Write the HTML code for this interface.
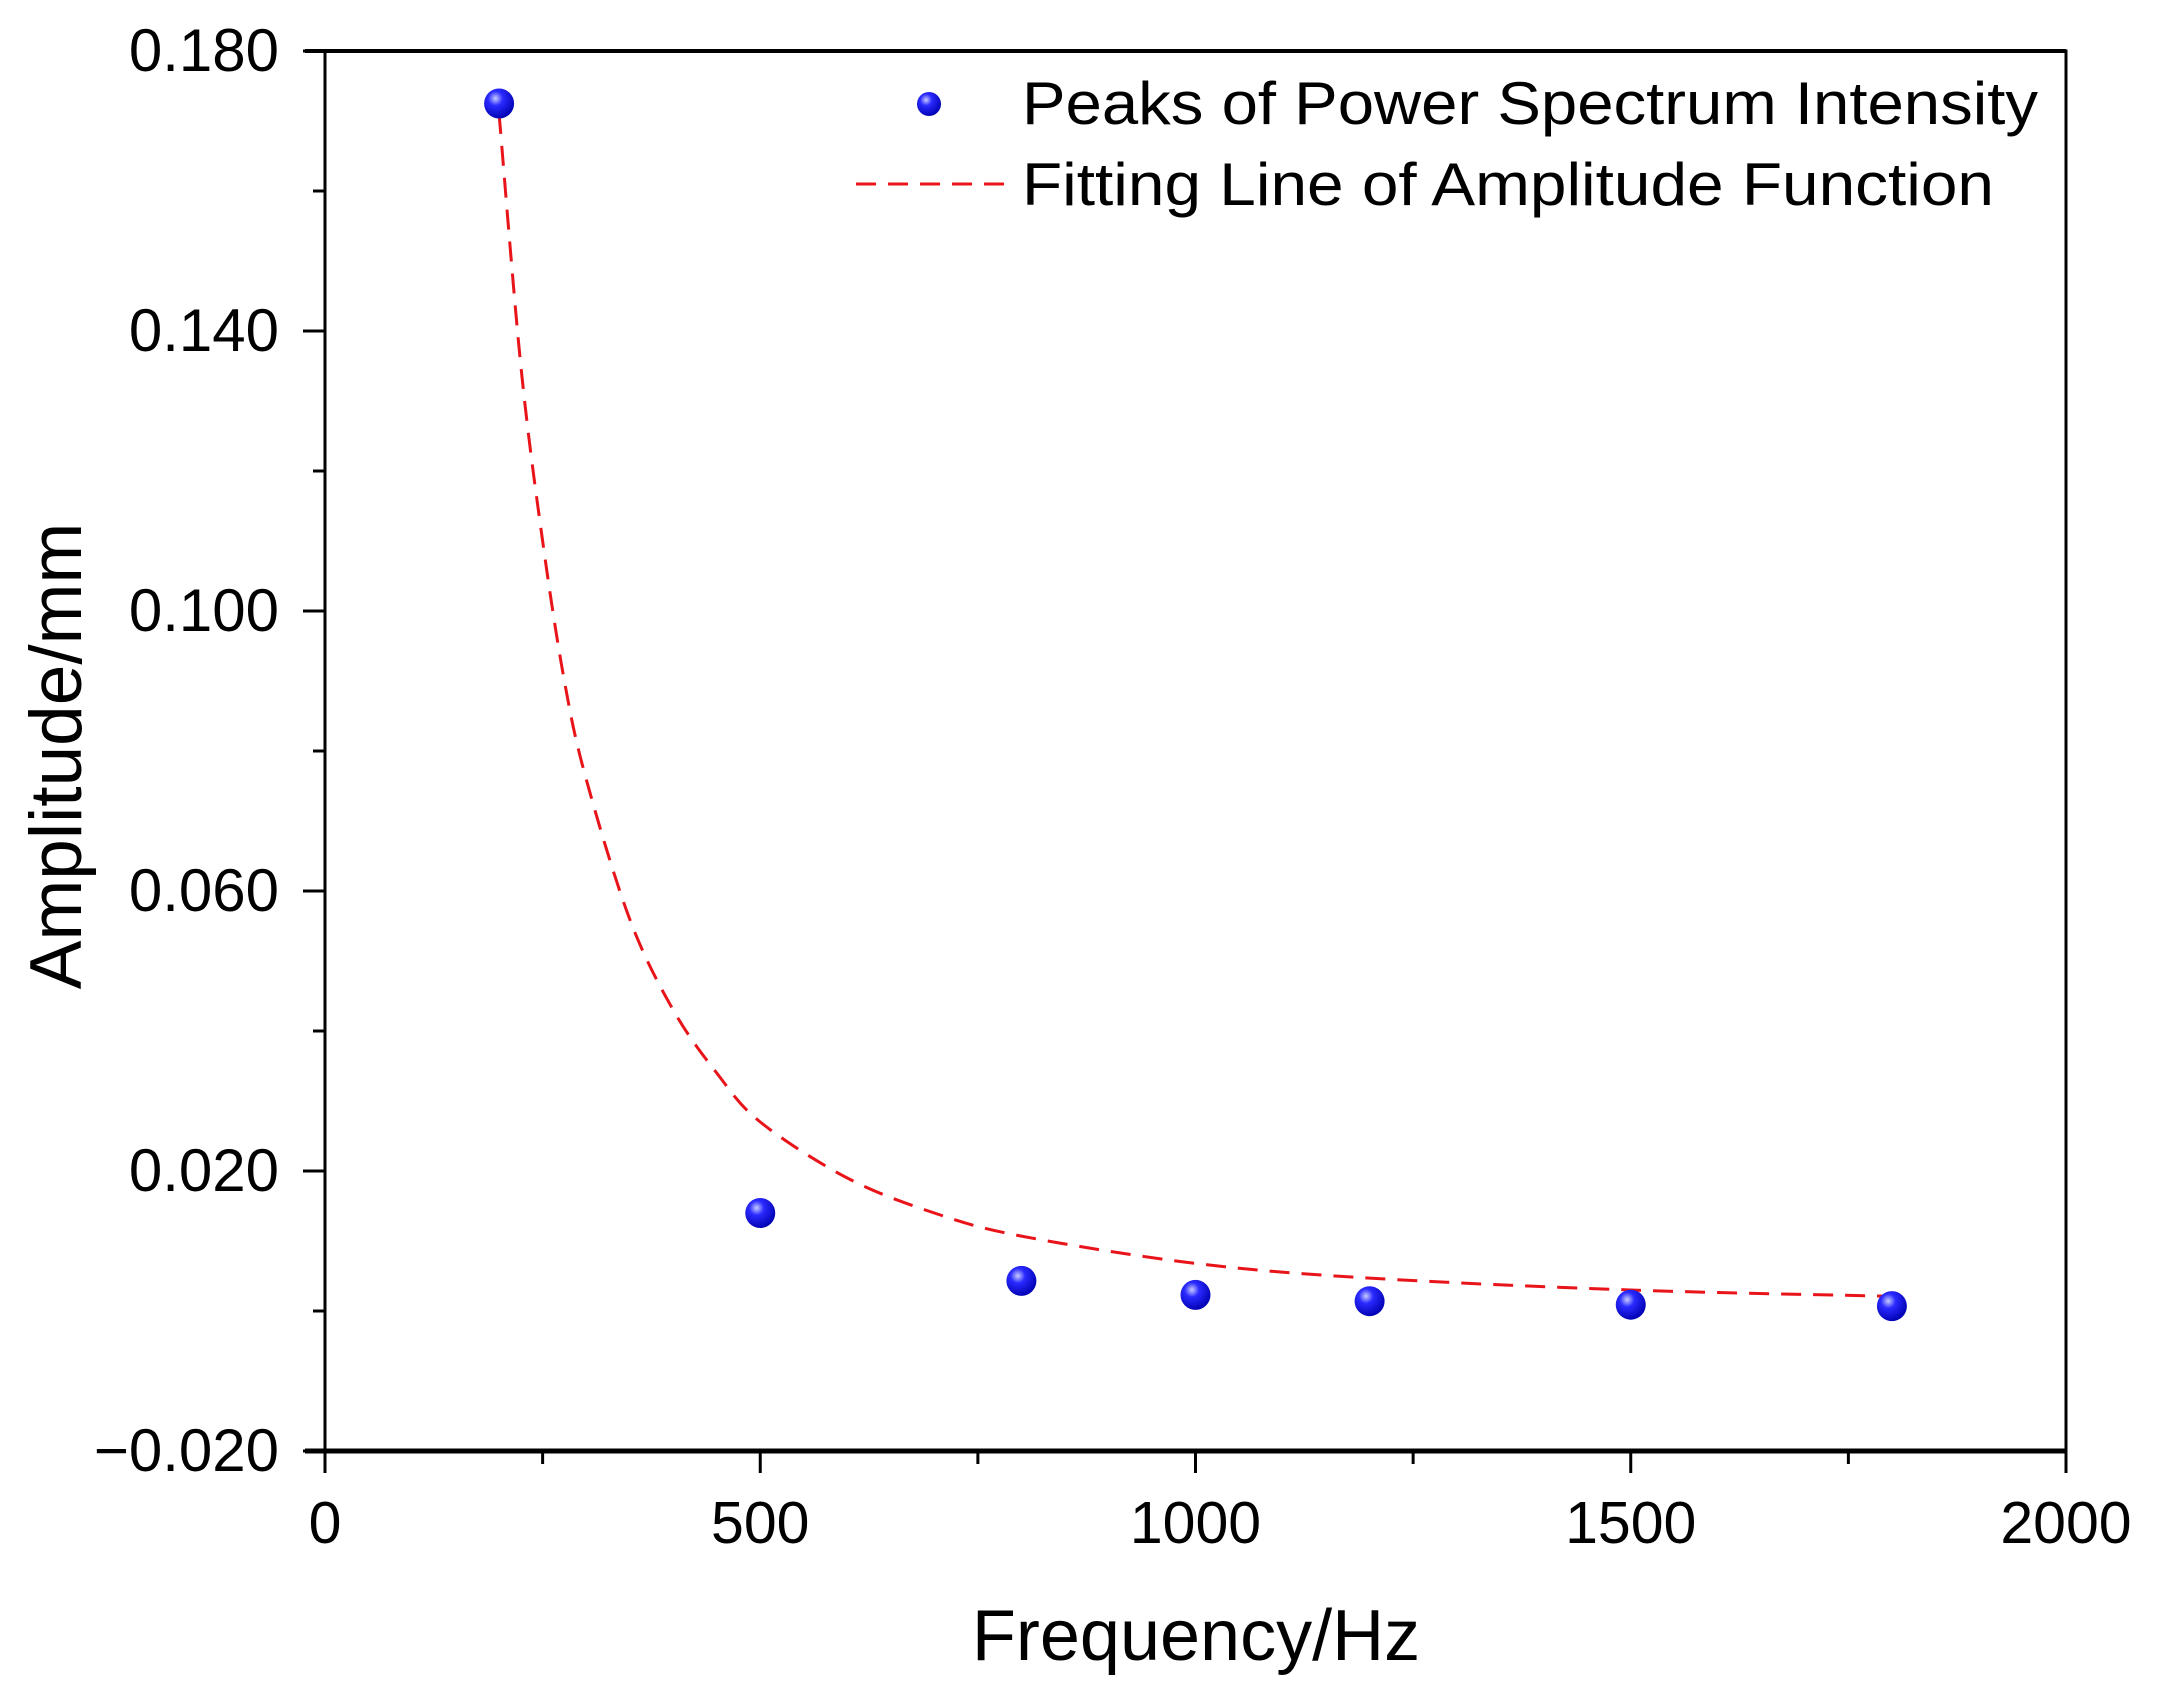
<!DOCTYPE html>
<html><head><meta charset="utf-8"><style>
html,body{margin:0;padding:0;background:#fff;}
svg{display:block;font-family:"Liberation Sans",Arial,sans-serif;}
</style></head><body>
<svg id="chart" width="2164" height="1684" viewBox="0 0 2164 1684" xmlns="http://www.w3.org/2000/svg">
<defs>
<radialGradient id="ball" cx="0.38" cy="0.33" r="0.7">
<stop offset="0" stop-color="#c8ccff"/><stop offset="0.35" stop-color="#2a2aff"/><stop offset="1" stop-color="#0000b0"/>
</radialGradient>
</defs>
<g id="axes"></g>
<g id="series"></g>
<g id="legend">
<circle cx="929" cy="104" r="12" fill="url(#ball)"/>
<text x="1022" y="124" font-size="60" textLength="1016" lengthAdjust="spacingAndGlyphs">Peaks of Power Spectrum Intensity</text>
<line x1="856" y1="184" x2="1005" y2="184" stroke="#e8141a" stroke-width="3" stroke-dasharray="20,12"/>
<text x="1022" y="205" font-size="60" textLength="972" lengthAdjust="spacingAndGlyphs">Fitting Line of Amplitude Function</text>
</g>
<text x="1196" y="1660" font-size="72" text-anchor="middle">Frequency/Hz</text>
<text transform="translate(81,756) rotate(-90)" font-size="73" text-anchor="middle">Amplitude/mm</text>
</svg>
<script>
const xTicks = [0, 500, 1000, 1500, 2000];
const xTickLabels = ["0", "500", "1000", "1500", "2000"];
const xMinor = [250, 750, 1250, 1750];
const yTicks = [-0.02, 0.02, 0.06, 0.10, 0.14, 0.18];
const yTickLabels = ["\u22120.020", "0.020", "0.060", "0.100", "0.140", "0.180"];
const yMinor = [0.0, 0.04, 0.08, 0.12, 0.16];
const peakFreq = [200, 500, 800, 1000, 1200, 1500, 1800];
const peakAmp = [0.1725, 0.014, 0.0043, 0.0023, 0.0014, 0.0009, 0.0007];
const fitFreq = [200, 225, 250, 275, 300, 350, 400, 450, 500, 600, 700, 800, 1000, 1200, 1500, 1800];
const fitAmp = [0.171, 0.135, 0.110, 0.090, 0.076, 0.056, 0.043, 0.034, 0.027, 0.019, 0.014, 0.0107, 0.0068, 0.0047, 0.0030, 0.0021];

const PL = 325, PR = 2066, PT = 51, PB = 1451;
const xMin = 0, xMax = 2000, yMin = -0.02, yMax = 0.18;
const X = v => PL + (v - xMin) / (xMax - xMin) * (PR - PL);
const Y = v => PB - (v - yMin) / (yMax - yMin) * (PB - PT);
const NS = "http://www.w3.org/2000/svg";
function mk(tag, attrs, parent) {
  const e = document.createElementNS(NS, tag);
  for (const k in attrs) e.setAttribute(k, attrs[k]);
  parent.appendChild(e);
  return e;
}
const axesG = document.getElementById('axes');
const frameRect = mk('rect', {x: PL, y: PT, width: PR - PL, height: PB - PT, fill: 'none', stroke: '#000', 'stroke-width': 3}, axesG);


const bottomAxis = mk('line', {x1: PL - 20, y1: PB, x2: PR, y2: PB, stroke: '#000', 'stroke-width': 5}, axesG);


const topAxis = mk('line', {x1: PL - 20, y1: PT, x2: PR, y2: PT, stroke: '#000', 'stroke-width': 4}, axesG);


xTicks.forEach((v, i) => {
  const t = mk('line', {x1: X(v), y1: PB, x2: X(v), y2: PB + 22, stroke: '#000', 'stroke-width': 3}, axesG);
  
  
  const lb = mk('text', {x: X(v), y: 1543, 'font-size': 59, 'text-anchor': 'middle'}, axesG);
  
  
  lb.textContent = xTickLabels[i];
});
xMinor.forEach(v => {
  const t = mk('line', {x1: X(v), y1: PB, x2: X(v), y2: PB + 13, stroke: '#000', 'stroke-width': 3}, axesG);
  
  
});
yTicks.forEach((v, i) => {
  const t = mk('line', {x1: PL - 22, y1: Y(v), x2: PL, y2: Y(v), stroke: '#000', 'stroke-width': 3}, axesG);
  
  
  const lb = mk('text', {x: 279, y: Y(v) + 20, 'font-size': 60, 'text-anchor': 'end'}, axesG);
  
  
  lb.textContent = yTickLabels[i];
});
yMinor.forEach(v => {
  const t = mk('line', {x1: PL - 12, y1: Y(v), x2: PL, y2: Y(v), stroke: '#000', 'stroke-width': 3}, axesG);
  
  
});
const seriesG = document.getElementById('series');
const pts = fitFreq.map((f, i) => [X(f), Y(fitAmp[i])]);
let d = 'M' + pts[0][0] + ',' + pts[0][1];
for (let i = 0; i < pts.length - 1; i++) {
  const p0 = pts[Math.max(0, i - 1)], p1 = pts[i], p2 = pts[i + 1], p3 = pts[Math.min(pts.length - 1, i + 2)];
  const c1 = [p1[0] + (p2[0] - p0[0]) / 6, p1[1] + (p2[1] - p0[1]) / 6];
  const c2 = [p2[0] - (p3[0] - p1[0]) / 6, p2[1] - (p3[1] - p1[1]) / 6];
  d += ' C' + c1[0] + ',' + c1[1] + ' ' + c2[0] + ',' + c2[1] + ' ' + p2[0] + ',' + p2[1];
}
const fitPath = mk('path', {d: d, fill: 'none', stroke: '#e8141a', 'stroke-width': 3, 'stroke-dasharray': '20,12'}, seriesG);


peakFreq.forEach((f, i) => {
  const c = mk('circle', {cx: X(f), cy: Y(peakAmp[i]), r: 15, fill: 'url(#ball)'}, seriesG);
  
  
});
</script>
</body></html>
